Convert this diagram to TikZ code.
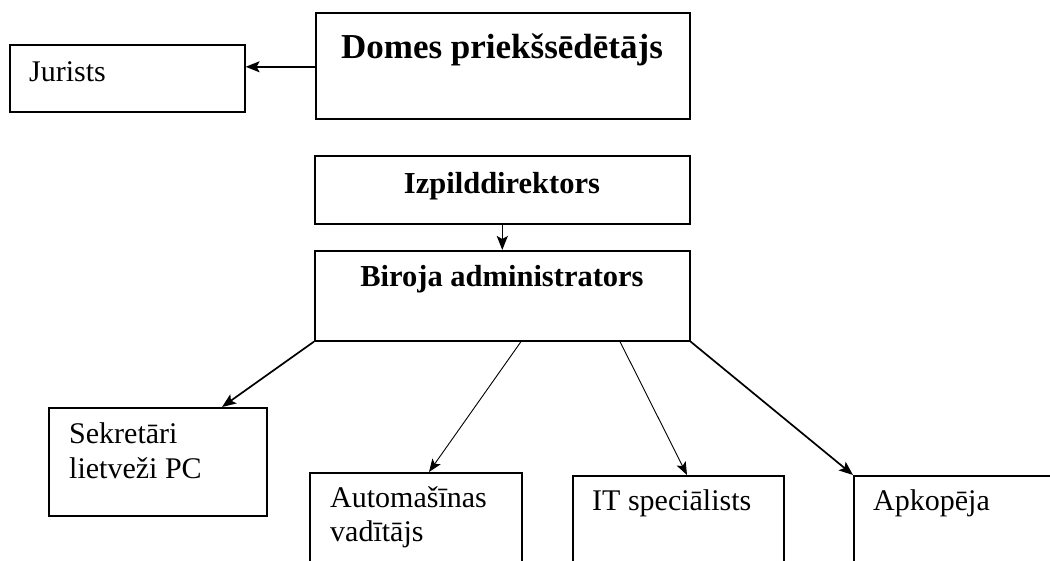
\documentclass[tikz,border=0pt]{standalone}
\usepackage{fontspec}
\setmainfont{Liberation Serif}
\usetikzlibrary{arrows.meta}
\begin{document}
\begin{tikzpicture}[x=1pt,y=-1pt,
  box/.style={draw,line width=1.6pt,inner sep=0pt,anchor=north west},
  reg/.style={inner sep=0pt,anchor=base west,font=\fontsize{30}{35}\selectfont},
  bld/.style={inner sep=0pt,anchor=base,font=\fontsize{30.5}{36}\selectfont\bfseries},
  arr/.style={-{Stealth[length=14pt,width=11pt,inset=3pt]},line width=1.5pt},
  thin/.style={-{Stealth[length=13pt,width=10pt,inset=3pt]},line width=0.9pt}]
\useasboundingbox (0,0) rectangle (1050,560);
\clip (0,0) rectangle (1050,560);
\fill[white] (0,0) rectangle (1050,560);
% boxes
\node[box,minimum width=235pt,minimum height=67pt] (jur) at (9,44) {};
\node[box,minimum width=374pt,minimum height=106pt] (dom) at (315,12) {};
\node[box,minimum width=375pt,minimum height=68pt] (izp) at (314,155) {};
\node[box,minimum width=375pt,minimum height=90pt] (bir) at (314,250) {};
\node[box,minimum width=218pt,minimum height=108pt] (sek) at (48,407) {};
\node[box,minimum width=212pt,minimum height=150pt] (aut) at (309,472) {};
\node[box,minimum width=211pt,minimum height=150pt] (it) at (572,475) {};
\node[box,minimum width=250pt,minimum height=150pt] (apk) at (853,475) {};
% texts
\node[bld,font=\fontsize{35}{40}\selectfont\bfseries] (tdom) at (502,58) {Domes priekšsēdētājs};
\node[bld] (tizp) at (502,193) {Izpilddirektors};
\node[bld] (tbir) at (502,286) {Biroja administrators};
\node[reg] (tjur) at (29,81) {Jurists};
\node[reg] (tsek1) at (69,443) {Sekretāri};
\node[reg] (tsek2) at (69,478) {lietveži PC};
\node[reg] (taut1) at (330,507) {Automašīnas};
\node[reg] (taut2) at (330,541) {vadītājs};
\node[reg] (tit) at (592,510) {IT speciālists};
\node[reg] (tapk) at (873,510) {Apkopēja};
% connectors
\draw[arr] ([yshift=-1pt]dom.west) -- ([yshift=-1pt]dom.west -| jur.east);
\draw[arr] (izp.south) -- (bir.north);
\draw[arr,line width=1.7pt] (bir.south west) -- ([xshift=174pt]sek.north west);
\draw[thin] ([xshift=207pt]bir.south west) -- ([xshift=120pt]aut.north west);
\draw[thin] ([xshift=306pt]bir.south west) -- ([xshift=115pt]it.north west);
\draw[arr,line width=1.7pt] (bir.south east) -- (apk.north west);
\end{tikzpicture}
\end{document}
